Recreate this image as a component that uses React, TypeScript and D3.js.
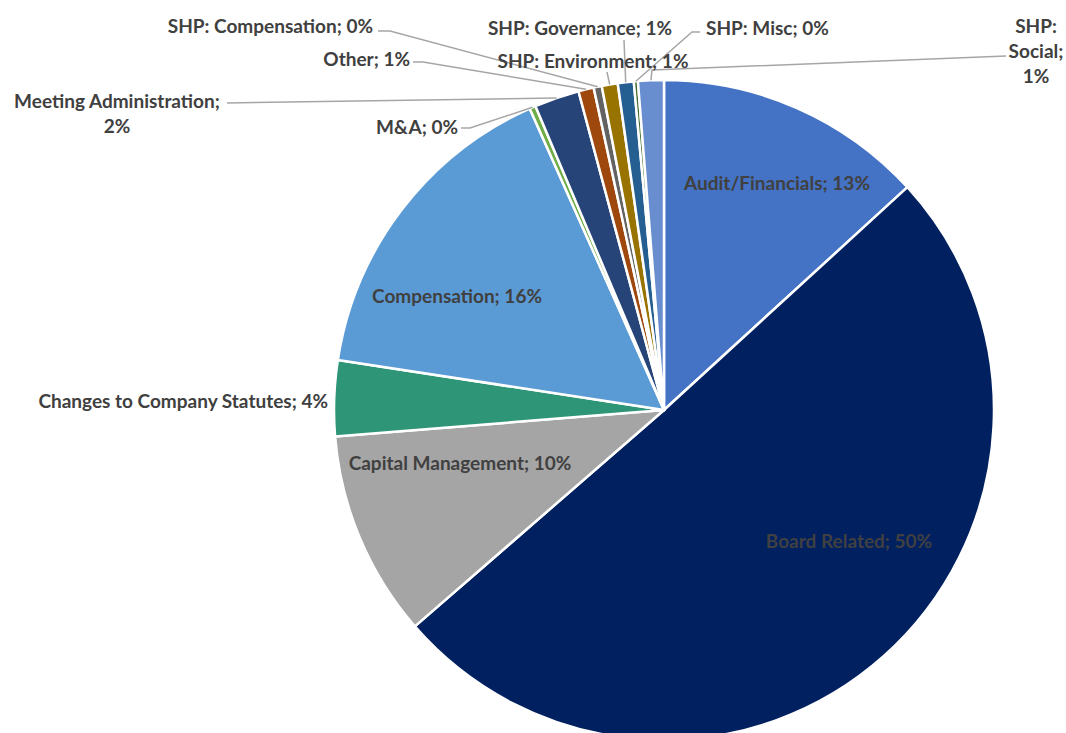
import React from 'react';
import * as d3 from 'd3';

const categories = [
  'Audit/Financials',
  'Board Related',
  'Capital Management',
  'Changes to Company Statutes',
  'Compensation',
  'M&A',
  'Meeting Administration',
  'Other',
  'SHP: Compensation',
  'SHP: Environment',
  'SHP: Governance',
  'SHP: Misc',
  'SHP: Social',
];
const values = [13.2, 50.4, 10.1, 3.7, 15.9, 0.3, 2.2, 0.75, 0.4, 0.78, 0.78, 0.2, 1.26];
const colors = [
  '#4472C4', '#002060', '#A5A5A5', '#2E9677', '#5B9BD5', '#70AD47', '#264478',
  '#9E480E', '#636363', '#997300', '#255E91', '#43682B', '#698ED0',
];

type Layout = {
  x: number;
  y: number;
  anchor: 'start' | 'middle' | 'end';
  lines?: string[];
  leader?: [number, number][];
};

const W = 1066;
const H = 733;
const CX = 664;
const CY = 410;
const R = 330;

const total = d3.sum(values);
const pct = (v: number) => `${Math.round((v / total) * 100)}%`;

const layouts: Layout[] = [
  { x: 777, y: 182, anchor: 'middle' },
  { x: 849, y: 540, anchor: 'middle' },
  { x: 460, y: 462, anchor: 'middle' },
  { x: 328, y: 400, anchor: 'end' },
  { x: 457, y: 295, anchor: 'middle' },
  { x: 458, y: 126, anchor: 'end', leader: [[461, 128], [470, 128]] },
  { x: 117, y: 100, anchor: 'middle', lines: ['Meeting Administration;', '2%'], leader: [[227, 103]] },
  { x: 410, y: 58, anchor: 'end', leader: [[413, 62], [423, 62]] },
  { x: 373, y: 25, anchor: 'end', leader: [[378, 31], [390, 31]] },
  { x: 593, y: 60, anchor: 'middle', leader: [[607, 72]] },
  { x: 580, y: 27, anchor: 'middle', leader: [[624, 40]] },
  { x: 706, y: 27, anchor: 'start', leader: [[700, 32], [692, 32]] },
  { x: 1036, y: 25, anchor: 'middle', lines: ['SHP:', 'Social;', '1%'], leader: [[1006, 56], [652, 70]] },
];

export default function App() {
  const pie = d3.pie<number>().sort(null).value((d) => d);
  const arcs = pie(values);
  const arc = d3.arc<d3.PieArcDatum<number>>().innerRadius(0).outerRadius(R);

  return (
    <div style={{ position: 'fixed', left: 0, top: 0, background: '#fff' }}>
      <svg width={W} height={H} style={{ display: 'block' }}>
        <rect width={W} height={H} fill="#fff" />
        <g transform={`translate(${CX},${CY})`}>
          {arcs.map((a, i) => (
            <path key={i} d={arc(a) || ''} fill={colors[i]} stroke="#fff" strokeWidth={2.5} strokeLinejoin="round" />
          ))}
        </g>
        {arcs.map((a, i) => {
          const L = layouts[i];
          if (!L.leader) return null;
          const m = (a.startAngle + a.endAngle) / 2;
          const px = CX + R * Math.sin(m);
          const py = CY - R * Math.cos(m);
          const pts: [number, number][] = [...L.leader, [px, py]];
          return (
            <polyline
              key={'l' + i}
              points={pts.map((p) => p.join(',')).join(' ')}
              fill="none"
              stroke="#A6A6A6"
              strokeWidth={1.5}
            />
          );
        })}
        {arcs.map((a, i) => {
          const L = layouts[i];
          const lines = L.lines || [`${categories[i]}; ${pct(values[i])}`];
          return (
            <text
              key={'t' + i}
              x={L.x}
              y={L.y}
              textAnchor={L.anchor}
              fontFamily="Lato, 'Open Sans', sans-serif"
              fontWeight="bold"
              fontSize={19}
              fill="#404040"
              dominantBaseline="central"
            >
              {lines.map((ln, j) => (
                <tspan key={j} x={L.x} dy={j === 0 ? 0 : 25}>
                  {ln}
                </tspan>
              ))}
            </text>
          );
        })}
      </svg>
    </div>
  );
}
